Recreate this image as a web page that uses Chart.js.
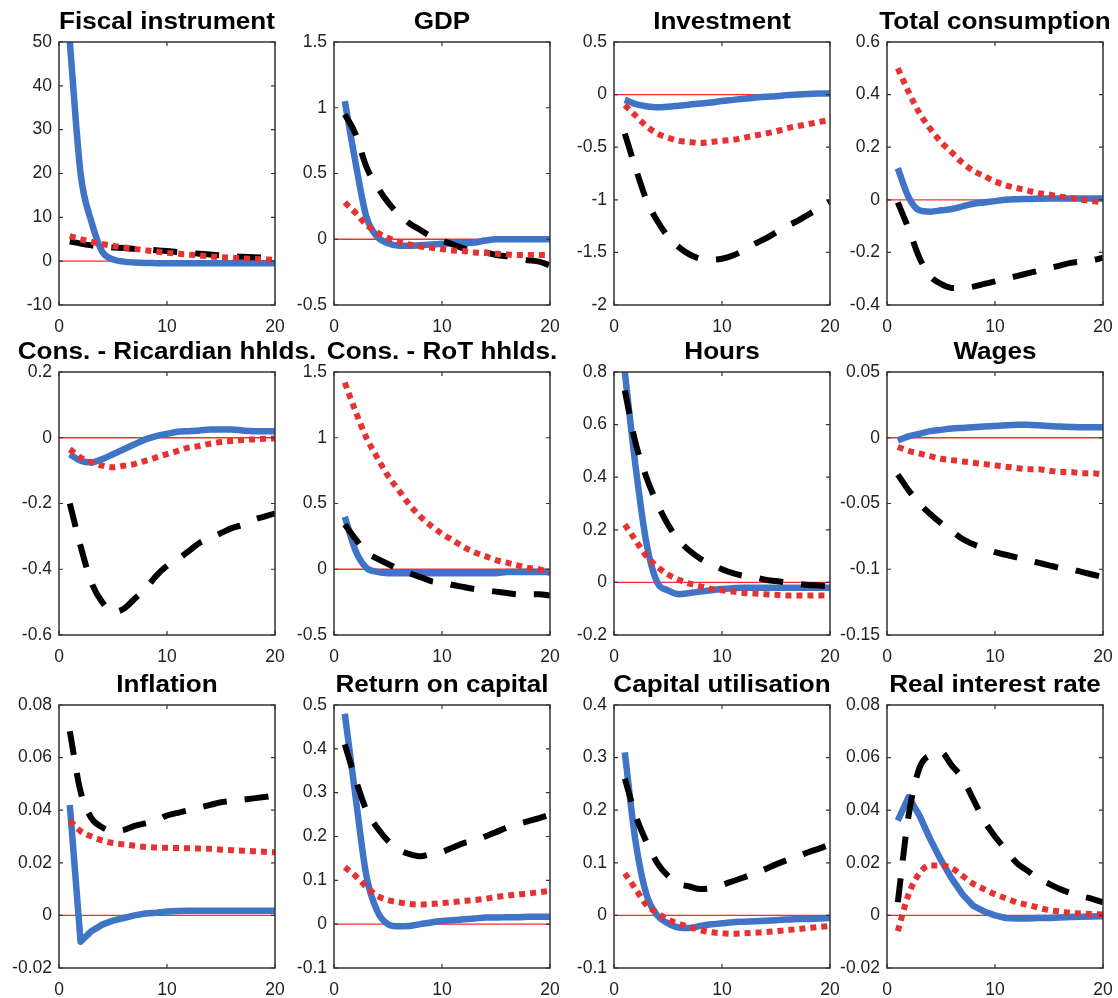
<!DOCTYPE html>
<html>
<head>
<meta charset="utf-8">
<script src="https://cdn.jsdelivr.net/npm/chart.js@4.4.1/dist/chart.umd.min.js"></script>
<style>
  html, body { margin: 0; padding: 0; background: #fff; }
  #page { position: relative; width: 1118px; height: 998px; overflow: hidden; background: #fff; }
  #page canvas { position: absolute; }
</style>
</head>
<body>
<div id="page"></div>
<script>
// quarters after the shock
const periods = [1, 2, 3, 4, 5, 6, 7, 8, 9, 10, 11, 12, 13, 14, 15, 16, 17, 18, 19, 20];

const titles = [
  "Fiscal instrument", "GDP", "Investment", "Total consumption",
  "Cons. - Ricardian hhlds.", "Cons. - RoT hhlds.", "Hours", "Wages",
  "Inflation", "Return on capital", "Capital utilisation", "Real interest rate"
];

// y axis ticks for each panel
const yMins  = [-10, -0.5, -2, -0.4, -0.6, -0.5, -0.2, -0.15, -0.02, -0.1, -0.1, -0.02];
const yMaxs  = [50, 1.5, 0.5, 0.6, 0.2, 1.5, 0.8, 0.05, 0.08, 0.5, 0.4, 0.08];
const ySteps = [10, 0.5, 0.5, 0.2, 0.2, 0.5, 0.2, 0.05, 0.02, 0.1, 0.1, 0.02];
const xTicks = [0, 10, 20];

// blue solid / black dashed / red dotted responses
const fiscalBlue  = [50, 20, 9, 2.2, 0.4, -0.1, -0.3, -0.4, -0.45, -0.5, -0.5, -0.5, -0.5, -0.5, -0.5, -0.5, -0.5, -0.5, -0.5, -0.5];
const fiscalBlack = [4.5, 4.0, 3.6, 3.3, 3.1, 3.0, 2.8, 2.7, 2.5, 2.3, 2.1, 1.9, 1.7, 1.5, 1.3, 1.1, 1.0, 0.9, 0.8, 0.7];
const fiscalRed   = [5.7, 5.0, 4.4, 3.9, 3.5, 3.1, 2.8, 2.5, 2.2, 1.9, 1.7, 1.5, 1.3, 1.1, 0.9, 0.8, 0.6, 0.5, 0.4, 0.3];

const gdpBlue  = [1.05, 0.58, 0.17, 0.02, -0.03, -0.05, -0.05, -0.045, -0.04, -0.035, -0.03, -0.03, -0.025, -0.01, 0, 0, 0, 0, 0, 0];
const gdpBlack = [0.95, 0.8, 0.55, 0.4, 0.28, 0.19, 0.12, 0.07, 0.02, -0.01, -0.04, -0.07, -0.09, -0.1, -0.12, -0.13, -0.15, -0.16, -0.17, -0.2];
const gdpRed   = [0.28, 0.2, 0.11, 0.05, 0.01, -0.02, -0.04, -0.055, -0.065, -0.075, -0.085, -0.09, -0.1, -0.105, -0.11, -0.115, -0.12, -0.12, -0.12, -0.12];

const invBlue  = [-0.05, -0.09, -0.11, -0.12, -0.115, -0.105, -0.095, -0.085, -0.075, -0.06, -0.05, -0.04, -0.03, -0.02, -0.015, -0.005, 0, 0.005, 0.01, 0.01];
const invBlack = [-0.37, -0.7, -1.0, -1.2, -1.35, -1.45, -1.52, -1.56, -1.57, -1.56, -1.53, -1.48, -1.42, -1.37, -1.31, -1.25, -1.2, -1.14, -1.08, -1.02];
const invRed   = [-0.1, -0.2, -0.3, -0.37, -0.41, -0.44, -0.45, -0.46, -0.45, -0.44, -0.43, -0.41, -0.39, -0.37, -0.35, -0.32, -0.3, -0.28, -0.26, -0.24];

const consBlue  = [0.12, 0.01, -0.04, -0.045, -0.04, -0.035, -0.025, -0.015, -0.01, -0.005, 0, 0.002, 0.003, 0.004, 0.005, 0.005, 0.005, 0.005, 0.005, 0.005];
const consBlack = [-0.01, -0.11, -0.22, -0.29, -0.32, -0.335, -0.335, -0.33, -0.32, -0.31, -0.3, -0.29, -0.28, -0.27, -0.26, -0.25, -0.24, -0.235, -0.23, -0.22];
const consRed   = [0.5, 0.41, 0.33, 0.27, 0.22, 0.18, 0.14, 0.11, 0.09, 0.07, 0.055, 0.045, 0.035, 0.025, 0.02, 0.012, 0.007, 0, -0.005, -0.01];

const ricBlue  = [-0.05, -0.07, -0.075, -0.065, -0.05, -0.035, -0.02, -0.005, 0.005, 0.012, 0.018, 0.02, 0.022, 0.025, 0.025, 0.025, 0.022, 0.02, 0.02, 0.02];
const ricBlack = [-0.2, -0.33, -0.44, -0.5, -0.53, -0.52, -0.49, -0.46, -0.42, -0.39, -0.37, -0.345, -0.32, -0.305, -0.29, -0.275, -0.265, -0.25, -0.24, -0.23];
const ricRed   = [-0.035, -0.06, -0.075, -0.085, -0.09, -0.085, -0.08, -0.07, -0.06, -0.05, -0.04, -0.03, -0.025, -0.018, -0.013, -0.01, -0.007, -0.005, -0.003, -0.002];

const rotBlue  = [0.4, 0.14, 0.01, -0.02, -0.03, -0.03, -0.03, -0.03, -0.03, -0.03, -0.03, -0.03, -0.03, -0.03, -0.03, -0.02, -0.02, -0.02, -0.02, -0.02];
const rotBlack = [0.34, 0.23, 0.13, 0.08, 0.04, 0, -0.03, -0.06, -0.09, -0.1, -0.12, -0.135, -0.15, -0.16, -0.17, -0.18, -0.19, -0.19, -0.19, -0.2];
const rotRed   = [1.42, 1.2, 1.0, 0.85, 0.71, 0.6, 0.49, 0.4, 0.33, 0.27, 0.22, 0.17, 0.13, 0.1, 0.07, 0.05, 0.03, 0.01, 0, -0.03];

const hoursBlue  = [0.8, 0.44, 0.15, 0, -0.03, -0.045, -0.04, -0.035, -0.03, -0.025, -0.022, -0.02, -0.02, -0.02, -0.02, -0.02, -0.02, -0.02, -0.02, -0.02];
const hoursBlack = [0.73, 0.53, 0.4, 0.3, 0.22, 0.16, 0.12, 0.09, 0.07, 0.05, 0.035, 0.025, 0.02, 0.01, 0.005, 0, -0.005, -0.01, -0.012, -0.015];
const hoursRed   = [0.22, 0.16, 0.1, 0.06, 0.03, 0.01, -0.005, -0.015, -0.025, -0.03, -0.035, -0.04, -0.042, -0.045, -0.047, -0.05, -0.05, -0.05, -0.05, -0.05];

const wageBlue  = [-0.002, 0.001, 0.003, 0.005, 0.006, 0.007, 0.0075, 0.008, 0.0085, 0.009, 0.0095, 0.0098, 0.0098, 0.0095, 0.009, 0.0085, 0.0082, 0.008, 0.008, 0.008];
const wageBlack = [-0.028, -0.04, -0.05, -0.058, -0.065, -0.071, -0.077, -0.081, -0.084, -0.087, -0.089, -0.091, -0.093, -0.095, -0.097, -0.099, -0.1, -0.102, -0.104, -0.106];
const wageRed   = [-0.007, -0.01, -0.012, -0.014, -0.016, -0.017, -0.018, -0.019, -0.02, -0.021, -0.022, -0.023, -0.024, -0.024, -0.025, -0.026, -0.026, -0.027, -0.027, -0.028];

const inflBlue  = [0.042, -0.01, -0.006, -0.0035, -0.002, -0.001, 0, 0.0007, 0.001, 0.0015, 0.0017, 0.0018, 0.0018, 0.0018, 0.0018, 0.0018, 0.0018, 0.0018, 0.0018, 0.0018];
const inflBlack = [0.07, 0.047, 0.037, 0.0335, 0.032, 0.0325, 0.034, 0.035, 0.036, 0.038, 0.039, 0.04, 0.041, 0.042, 0.043, 0.0435, 0.044, 0.0445, 0.045, 0.0455];
const inflRed   = [0.036, 0.032, 0.03, 0.0285, 0.0275, 0.027, 0.0265, 0.026, 0.0258, 0.0257, 0.0256, 0.0255, 0.0254, 0.0253, 0.025, 0.0248, 0.0246, 0.0244, 0.0242, 0.024];

const rocBlue  = [0.48, 0.29, 0.11, 0.03, 0, -0.005, -0.004, 0, 0.004, 0.007, 0.009, 0.011, 0.013, 0.015, 0.015, 0.016, 0.016, 0.017, 0.017, 0.017];
const rocBlack = [0.41, 0.33, 0.26, 0.22, 0.19, 0.17, 0.16, 0.155, 0.16, 0.165, 0.175, 0.185, 0.19, 0.2, 0.21, 0.22, 0.228, 0.235, 0.242, 0.25];
const rocRed   = [0.13, 0.11, 0.085, 0.065, 0.055, 0.05, 0.046, 0.045, 0.046, 0.048, 0.05, 0.053, 0.055, 0.058, 0.062, 0.065, 0.068, 0.07, 0.073, 0.076];

const utilBlue  = [0.31, 0.14, 0.04, 0, -0.015, -0.023, -0.024, -0.02, -0.017, -0.015, -0.013, -0.012, -0.011, -0.01, -0.009, -0.008, -0.007, -0.007, -0.006, -0.005];
const utilBlack = [0.26, 0.19, 0.14, 0.1, 0.075, 0.06, 0.055, 0.05, 0.052, 0.058, 0.065, 0.072, 0.08, 0.088, 0.097, 0.105, 0.112, 0.12, 0.127, 0.135];
const utilRed   = [0.08, 0.05, 0.02, 0.005, -0.008, -0.016, -0.022, -0.028, -0.032, -0.034, -0.035, -0.034, -0.033, -0.032, -0.03, -0.028, -0.026, -0.024, -0.022, -0.02];

const rirBlue  = [0.036, 0.045, 0.038, 0.029, 0.021, 0.014, 0.008, 0.0036, 0.0015, 0, -0.001, -0.0012, -0.0012, -0.001, -0.001, -0.0008, -0.0006, -0.0005, -0.0004, -0.0003];
const rirBlack = [0.005, 0.038, 0.056, 0.061, 0.062, 0.057, 0.052, 0.044, 0.036, 0.03, 0.025, 0.02, 0.017, 0.014, 0.012, 0.01, 0.0085, 0.0073, 0.0063, 0.005];
const rirRed   = [-0.006, 0.008, 0.016, 0.019, 0.019, 0.018, 0.015, 0.012, 0.01, 0.008, 0.0065, 0.005, 0.004, 0.003, 0.002, 0.0015, 0.001, 0.0007, 0.0005, 0.0003];

const blueSeries  = [fiscalBlue, gdpBlue, invBlue, consBlue, ricBlue, rotBlue, hoursBlue, wageBlue, inflBlue, rocBlue, utilBlue, rirBlue];
const blackSeries = [fiscalBlack, gdpBlack, invBlack, consBlack, ricBlack, rotBlack, hoursBlack, wageBlack, inflBlack, rocBlack, utilBlack, rirBlack];
const redSeries   = [fiscalRed, gdpRed, invRed, consRed, ricRed, rotRed, hoursRed, wageRed, inflRed, rocRed, utilRed, rirRed];

// blue lines with a sharp kink (inflation, real rate) are drawn straight, the rest smoothed
const sharpBlue = ["Inflation", "Real interest rate"];

// layout of the plot boxes (page pixels)
const colLeft = [59, 334, 614, 887];
const rowTop = [42, 372, 705];
const boxW = 216, boxH = 263;
const padL = 80, padT = 42, padR = 40, padB = 36;

Chart.defaults.font.family = "'Liberation Sans', Arial, sans-serif";
Chart.defaults.color = "#222";

const fmt = (v) => String(parseFloat(Number(v).toFixed(6)));
const toXY = (vals) => vals.map((v, i) => ({ x: periods[i], y: v }));

// axes box with inward ticks, plus the title (the source figure is a bit stretched sideways)
const boxPlugin = {
  id: "matlabBox",
  afterDraw(chart, args, opts) {
    const { ctx, chartArea: a, scales } = chart;
    ctx.save();
    ctx.strokeStyle = "#333";
    ctx.lineWidth = 1.5;
    ctx.strokeRect(a.left, a.top, a.right - a.left, a.bottom - a.top);
    ctx.lineWidth = 1.2;
    ctx.beginPath();
    scales.y.ticks.forEach((t) => {
      const py = scales.y.getPixelForValue(t.value);
      ctx.moveTo(a.left, py); ctx.lineTo(a.left + 4, py);
      ctx.moveTo(a.right, py); ctx.lineTo(a.right - 4, py);
    });
    scales.x.ticks.forEach((t) => {
      const px = scales.x.getPixelForValue(t.value);
      ctx.moveTo(px, a.bottom); ctx.lineTo(px, a.bottom - 4);
      ctx.moveTo(px, a.top); ctx.lineTo(px, a.top + 4);
    });
    ctx.stroke();
    ctx.fillStyle = "#000";
    ctx.font = "bold 23.5px 'Liberation Sans', Arial, sans-serif";
    ctx.textAlign = "center";
    ctx.textBaseline = "alphabetic";
    ctx.translate((a.left + a.right) / 2, a.top - 13);
    ctx.scale(1.11, 1);
    ctx.fillText(opts.text, 0, 0);
    ctx.restore();
  }
};

const page = document.getElementById("page");

titles.forEach((title, k) => {
  const r = Math.floor(k / 4), c = k % 4;
  const canvas = document.createElement("canvas");
  canvas.width = padL + boxW + padR;
  canvas.height = padT + boxH + padB;
  canvas.style.left = (colLeft[c] - padL) + "px";
  canvas.style.top = (rowTop[r] - padT) + "px";
  page.appendChild(canvas);

  new Chart(canvas.getContext("2d"), {
    type: "line",
    data: {
      datasets: [
        { data: toXY(redSeries[k]), borderColor: "#e63232", borderWidth: 6, borderDash: [6, 5], order: 0 },
        { data: toXY(blackSeries[k]), borderColor: "#000", borderWidth: 6, borderDash: [24, 18], order: 1 },
        {
          data: toXY(blueSeries[k]), borderColor: "#3f74c6", borderWidth: 6.5, order: 2,
          cubicInterpolationMode: sharpBlue.includes(title) ? "default" : "monotone"
        },
        { data: [{ x: xTicks[0], y: 0 }, { x: xTicks[2], y: 0 }], borderColor: "#ff2a2a", borderWidth: 1.3, order: 3 }
      ]
    },
    options: {
      responsive: false,
      animation: false,
      devicePixelRatio: 1,
      layout: { padding: { top: padT, right: padR, left: 0, bottom: 0 } },
      elements: {
        point: { radius: 0 },
        line: { tension: 0, cubicInterpolationMode: "monotone", fill: false, borderCapStyle: "butt", borderJoinStyle: "round" }
      },
      datasets: { line: { clip: 0 } },
      scales: {
        x: {
          type: "linear",
          min: xTicks[0],
          max: xTicks[2],
          afterFit: (s) => { s.height = padB; },
          afterBuildTicks: (s) => { s.ticks = xTicks.map((v) => ({ value: v })); },
          grid: { display: false, drawTicks: false },
          border: { display: false },
          ticks: { font: { size: 17.5 }, padding: 12, maxRotation: 0, callback: fmt }
        },
        y: {
          min: yMins[k],
          max: yMaxs[k],
          afterFit: (s) => { s.width = padL; },
          grid: { display: false, drawTicks: false },
          border: { display: false },
          ticks: { font: { size: 17.5 }, padding: 7, stepSize: ySteps[k], callback: fmt }
        }
      },
      plugins: {
        legend: { display: false },
        tooltip: { enabled: false },
        matlabBox: { text: title }
      }
    },
    plugins: [boxPlugin]
  });
});
</script>
</body>
</html>
